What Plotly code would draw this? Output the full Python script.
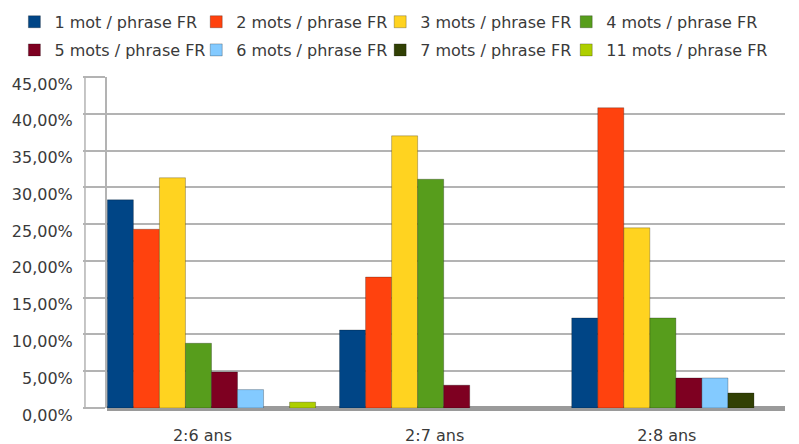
import plotly.graph_objects as go

categories = ["2:6 ans", "2:7 ans", "2:8 ans"]

series_names = [
    "1 mot / phrase FR", "2 mots / phrase FR", "3 mots / phrase FR", "4 mots / phrase FR",
    "5 mots / phrase FR", "6 mots / phrase FR", "7 mots / phrase FR", "11 mots / phrase FR",
]

mot_1 = [28.3, 10.6, 12.24]
mots_2 = [24.3, 17.8, 40.82]
mots_3 = [31.3, 37.0, 24.49]
mots_4 = [8.8, 31.1, 12.24]
mots_5 = [4.9, 3.1, 4.08]
mots_6 = [2.5, None, 4.08]
mots_7 = [None, None, 2.04]
mots_11 = [0.8, None, None]

series_values = [mot_1, mots_2, mots_3, mots_4, mots_5, mots_6, mots_7, mots_11]

colors = ["#004586", "#ff420e", "#ffd320", "#579d1c", "#7e0021", "#83caff", "#314004", "#aecf00"]

y_ticks = [0, 5, 10, 15, 20, 25, 30, 35, 40, 45]
y_tick_labels = ["0,00%", "5,00%", "10,00%", "15,00%", "20,00%", "25,00%",
                 "30,00%", "35,00%", "40,00%", "45,00%"]

font = dict(family="DejaVu Sans, sans-serif", size=16, color="#3a3a3a")

# legend layout: 4 columns x 2 rows (one legend box per entry)
legend_cols_x = [-0.1366, 0.1316, 0.4029, 0.6773]
legend_rows_y = [1.218, 1.133]

fig = go.Figure()
legend_layout = {}
for i, (name, vals, col) in enumerate(zip(series_names, series_values, colors)):
    key = "legend" if i == 0 else f"legend{i + 1}"
    fig.add_trace(go.Bar(
        name=name, x=categories, y=vals,
        marker=dict(color=col, line=dict(color="rgba(0,0,0,0.25)", width=1)),
        legend=key,
    ))
    legend_layout[key] = dict(
        orientation="h", xref="paper", yref="paper", xanchor="left", yanchor="top",
        x=legend_cols_x[i % 4], y=legend_rows_y[i // 4], itemwidth=30,
        font=font, bgcolor="rgba(0,0,0,0)",
    )

# page body has an 8px default margin, so the figure is 8px smaller than the window
fig.update_layout(
    width=791, height=436,
    margin=dict(l=99, r=14, t=69, b=36, autoexpand=False),
    paper_bgcolor="white", plot_bgcolor="white",
    barmode="group", bargap=0.103, bargroupgap=0.0,
    font=font,
    showlegend=True,
    xaxis=dict(range=[-0.45, 2.47], showgrid=False, showline=False, zeroline=False,
               automargin=False,
               ticks="", ticklabelstandoff=16, ticklabelshift=-9, tickfont=font),
    yaxis=dict(range=[0, 45], tickvals=y_ticks, ticktext=y_tick_labels,
               automargin=False,
               showgrid=True, gridcolor="#b3b3b3", gridwidth=2,
               showline=True, linecolor="#b3b3b3", linewidth=2,
               ticks="outside", ticklen=22, tickcolor="#b3b3b3", tickwidth=1.5,
               ticklabelstandoff=7, ticklabelshift=7,
               zeroline=True, zerolinecolor="#9a9a9a", zerolinewidth=5, tickfont=font),
    shapes=[dict(type="line", xref="paper", yref="y", x0=-0.0325, x1=-0.0325, y0=0, y1=45,
                 line=dict(color="#b3b3b3", width=1.5), layer="below")],
    **legend_layout,
)

fig.write_html("out.html")
